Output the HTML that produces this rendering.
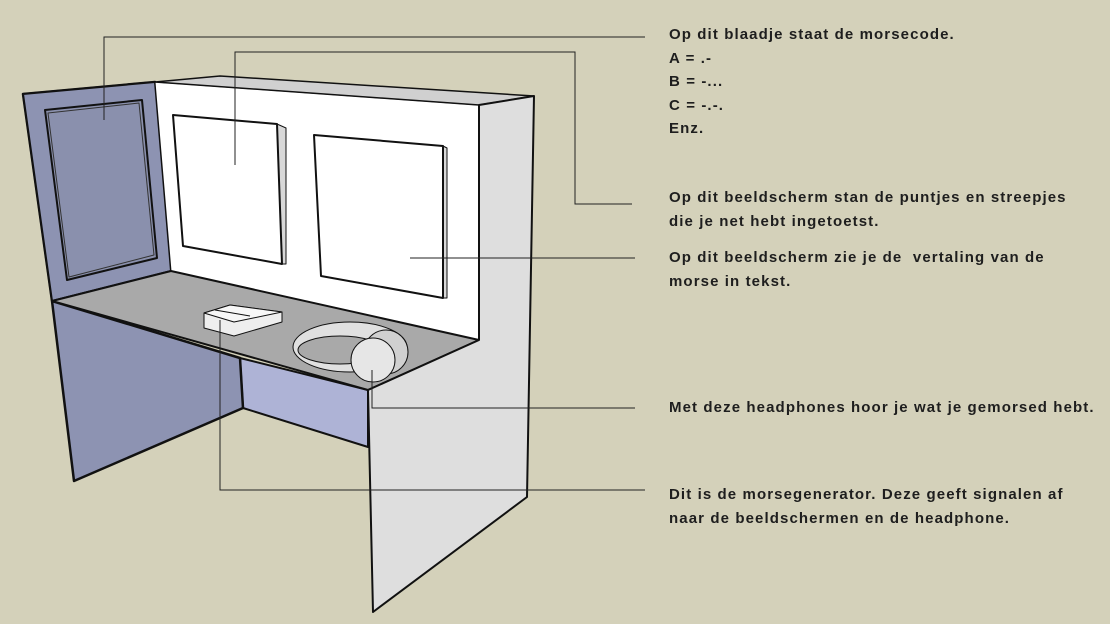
<!DOCTYPE html>
<html><head><meta charset="utf-8"><style>
html,body{margin:0;padding:0;background:#d4d1ba;}
body{width:1110px;height:624px;position:relative;overflow:hidden;font-family:"Liberation Sans","DejaVu Sans",sans-serif;}
.t{position:absolute;left:669px;font-size:15px;font-weight:bold;color:#1e1e1e;line-height:23.5px;white-space:nowrap;letter-spacing:1.1px;}
svg{position:absolute;left:0;top:0;}
</style></head><body>
<svg width="1110" height="624" viewBox="0 0 1110 624">
<g stroke="#111" stroke-linejoin="round">
<polygon points="240,358 243,408 368,447 368,390" fill="#aeb3d6" stroke-width="2"/>
<polygon points="23,94 155,82 171,271 52,301 74,481 243,408 240,358 52,301" fill="#8d93b2" stroke-width="2.5"/>
<polygon points="23,94 155,82 171,271 52,301" fill="#8d93b2" stroke-width="2"/>
<polygon points="45,110 142,100 157,258 67,280" fill="#8a90ad" stroke-width="2"/>
<polygon points="48,113 139,103 154,255 69,277" fill="none" stroke-width="1" stroke="#333"/>
<polygon points="155,82 479,105 479,340 171,271" fill="#ffffff" stroke-width="1"/>
<polygon points="155,82 220,76 534,96 479,105" fill="#d0d0d0" stroke-width="1.5"/>
<polygon points="277,124 286,128 286,264 282,264" fill="#d8d8d8" stroke-width="1"/>
<polygon points="173,115 277,124 282,264 183,246" fill="#ffffff" stroke-width="2"/>
<polygon points="443,146 447,148 447,298 443,298" fill="#d8d8d8" stroke-width="1"/>
<polygon points="314,135 443,146 443,298 321,276" fill="#ffffff" stroke-width="2"/>
<polygon points="52,301 171,271 479,340 368,390" fill="#a9a9a9" stroke-width="2"/>
<polygon points="204,313 230,305 282,312 282,322 234,336 204,328" fill="#eeeeee" stroke-width="1"/>
<polygon points="204,313 230,305 282,312 234,322" fill="#f7f7f7" stroke-width="1"/>
<line x1="215" y1="310" x2="250" y2="316" stroke-width="1"/>
<ellipse cx="350" cy="347" rx="57" ry="25" fill="#e0e0e0" stroke-width="1"/>
<ellipse cx="340" cy="350" rx="42" ry="14" fill="#a9a9a9" stroke-width="1"/>
<circle cx="386" cy="352" r="22" fill="#d0d0d0" stroke-width="1"/>
<circle cx="373" cy="360" r="22" fill="#e6e6e6" stroke-width="1"/>
<polygon points="479,105 534,96 527,497 373,612 368,390 479,340" fill="#dedede" stroke-width="2"/>
</g>
<g stroke="#222" stroke-width="1" fill="none">
<polyline points="104,120 104,37 645,37"/>
<polyline points="235,165 235,52 575,52 575,204 632,204"/>
<line x1="410" y1="258" x2="635" y2="258"/>
<polyline points="372,370 372,408 635,408"/>
<polyline points="220,320 220,490 645,490"/>
</g>
</svg>
<div class="t" style="top:23px">Op dit blaadje staat de morsecode.<br>A = .-<br>B = -...<br>C = -.-.<br>Enz.</div>
<div class="t" style="top:186px">Op dit beeldscherm stan de puntjes en streepjes<br>die je net hebt ingetoetst.</div>
<div class="t" style="top:246px">Op dit beeldscherm zie je de &nbsp;vertaling van de<br>morse in tekst.</div>
<div class="t" style="top:396px">Met deze headphones hoor je wat je gemorsed hebt.</div>
<div class="t" style="top:483px">Dit is de morsegenerator. Deze geeft signalen af<br>naar de beeldschermen en de headphone.</div>
</body></html>
